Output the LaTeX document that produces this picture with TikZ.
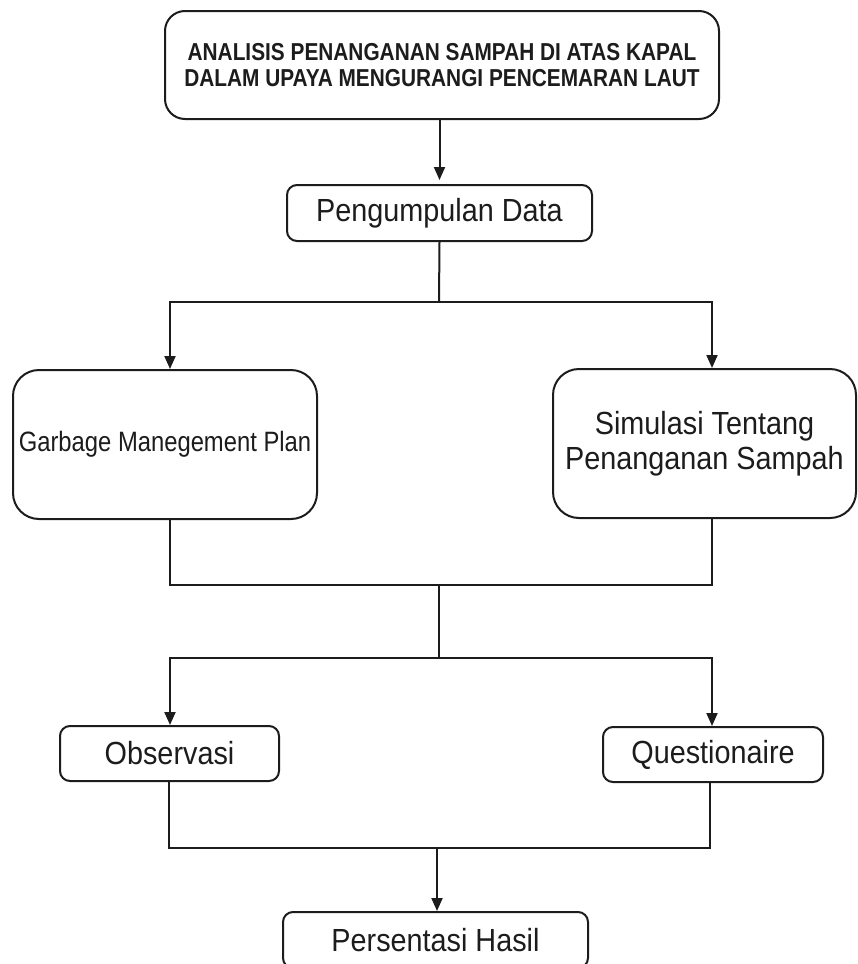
\documentclass[tikz,border=0pt]{standalone}
\usepackage{fontspec}
\setmainfont{Liberation Sans}
\newfontfamily\fcnarrowfont{Liberation Sans}[FakeStretch=0.9]
\newfontfamily\fccondfont{Liberation Sans}[FakeStretch=0.85]
\usepackage{tikz}
\usepackage{xcolor}
\usetikzlibrary{arrows.meta}
\definecolor{fcink}{HTML}{1C1C1C}
\tikzset{
  fcbox/.style={draw=fcink, line width=2pt, rounded corners=10pt, fill=white, align=center,
    inner sep=0pt, text=fcink, font=\fcnarrowfont\fontsize{32}{35}\selectfont},
  fctitle/.style={fcbox, rounded corners=20pt, font=\fccondfont\fontsize{24.5}{26.5}\selectfont\bfseries},
  fcbig/.style={fcbox, rounded corners=26pt},
  fcarrow/.style={-{Triangle[length=13pt,width=11pt]}, line width=2pt, draw=fcink},
  fcline/.style={line width=2pt, draw=fcink}
}

\begin{document}
\begin{tikzpicture}[x=1pt, y=-1pt]
\useasboundingbox (0,0) rectangle (858,964);
\clip (0,0) rectangle (858,964);
\node[fctitle, minimum width=554pt, minimum height=108pt] (title) at (442,65)
  {ANALISIS PENANGANAN SAMPAH DI ATAS KAPAL\\DALAM UPAYA MENGURANGI PENCEMARAN LAUT};
\node[fcbox, minimum width=305pt, minimum height=56pt] (data) at (439.5,213) {Pengumpulan Data};
\node[fcbig, minimum width=304pt, minimum height=149pt, font=\fccondfont\fontsize{28}{32}\selectfont] (gmp) at (165,444.5)
  {Garbage Manegement Plan};
\node[fcbig, minimum width=303pt, minimum height=149pt] (sim) at (704.5,443.5)
  {Simulasi Tentang\\Penanganan Sampah};
\node[fcbox, minimum width=219pt, minimum height=55pt] (obs) at (169.5,753.5) {Observasi};
\node[fcbox, minimum width=220pt, minimum height=55pt] (quest) at (713,754.5) {Questionaire};
\node[fcbox, minimum width=305pt, minimum height=56pt] (hasil) at (435.5,940) {Persentasi Hasil};
% bus points
\coordinate (split1) at (439,302);
\coordinate (busL1) at (170,302);
\coordinate (busR1) at (712,302);
\coordinate (busL2) at (170,585);
\coordinate (busR2) at (712,585);
\coordinate (join2) at (439,585);
\coordinate (split3) at (439,658);
\coordinate (busL3) at (170,658);
\coordinate (busR3) at (712,658);
\coordinate (busL4) at (169,848);
\coordinate (busR4) at (710,848);
\coordinate (join4) at (437,848);
\draw[fcarrow, shorten >=4pt] (title.south -| data.north) -- (data.north);
\draw[fcline] (data.south) -- (split1);
\draw[fcarrow] (split1) -- (busL1) -- (busL1 |- gmp.north);
\draw[fcarrow] (split1) -- (busR1) -- (busR1 |- sim.north);
\draw[fcline] (gmp.south -| busL2) -- (busL2) -- (busR2) -- (sim.south -| busR2);
\draw[fcline] (join2) -- (split3);
\draw[fcarrow] (split3) -- (busL3) -- (busL3 |- obs.north);
\draw[fcarrow] (split3) -- (busR3) -- (busR3 |- quest.north);
\draw[fcline] (obs.south -| busL4) -- (busL4) -- (busR4) -- (quest.south -| busR4);
\draw[fcarrow] (join4) -- (hasil.north -| join4);
\end{tikzpicture}
\end{document}
